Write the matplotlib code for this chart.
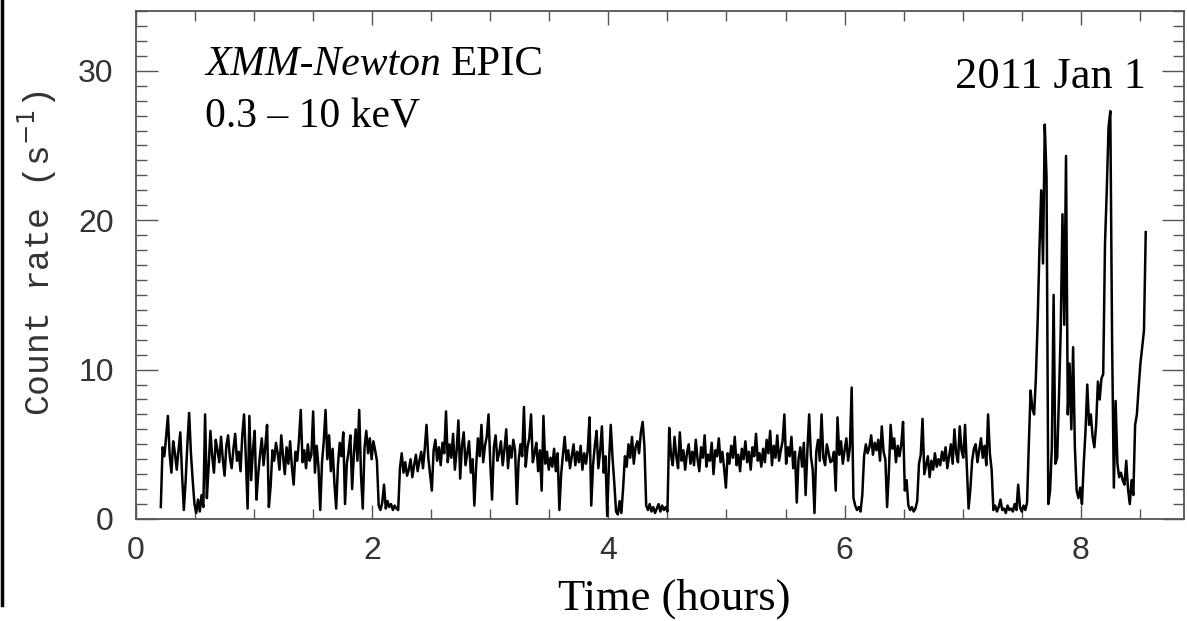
import numpy as np
import matplotlib
matplotlib.use("Agg")
import matplotlib.pyplot as plt
from matplotlib.ticker import MultipleLocator
from matplotlib.lines import Line2D

# light curve binning (hours)
T_START = 0.21
T_BIN = 0.015

# count rates (s^-1), one bin per value
rate_early = [  # 0.21 - 2.30 h
    0.8, 4.8, 4.2, 5.5, 6.9, 4.3, 3.1, 5.2, 4.4, 3.3, 4.6, 5.8, 3.0, 0.6, 2.5, 5.0, 7.1, 4.4, 2.6, 1.0,
    0.4, 1.3, 0.5, 1.6, 0.8, 7.0, 1.4, 3.5, 5.9, 4.2, 3.1, 5.3, 4.6, 3.8, 5.5, 4.0, 2.9, 4.9, 5.6, 4.1,
    3.4, 4.7, 5.7, 3.9, 4.5, 3.2, 5.6, 7.0, 4.1, 0.7, 6.9, 2.6, 4.6, 5.9, 1.3, 3.0, 4.3, 5.4, 3.6, 4.9,
    6.3, 0.8, 2.2, 4.6, 3.9, 5.1, 4.4, 3.3, 5.6, 4.2, 3.0, 4.8, 3.7, 5.2, 3.5, 2.3, 4.5, 3.9, 5.3, 7.3,
    3.8, 4.6, 3.4, 5.0, 3.9, 4.3, 7.2, 3.1, 4.9, 3.5, 0.6, 3.8, 5.2, 7.3, 4.0, 5.6, 3.2, 4.7, 2.4, 0.7,
    3.6, 5.1, 4.2, 5.8, 1.0, 3.7, 4.5, 5.6, 2.0, 4.4, 6.0, 3.9, 7.3, 3.0, 0.7, 4.8, 5.9, 4.4, 5.4, 4.0,
    5.2, 4.6, 3.9, 0.9, 0.6, 1.1, 2.3, 0.7, 1.2, 0.8, 1.0, 0.6, 0.9, 0.7, 0.6, 3.4, 4.4, 3.1, 3.8, 2.9,
]
rate_mid = [  # 2.31 - 4.40 h
    3.3, 4.0, 2.8, 3.6, 4.3, 3.2, 3.9, 4.5, 3.4, 4.7, 6.3, 4.1, 3.0, 1.9, 4.6, 5.3, 3.9, 4.8, 3.6, 5.1,
    4.4, 7.2, 3.8, 5.0, 4.1, 5.7, 3.3, 4.6, 6.6, 2.7, 4.9, 5.8, 3.6, 4.4, 5.2, 3.1, 4.0, 0.9, 3.5, 5.4,
    4.2, 6.3, 3.8, 4.9, 5.5, 7.0, 3.7, 1.3, 4.8, 5.6, 3.9, 4.4, 5.2, 3.6, 4.7, 6.0, 3.4, 4.9, 4.1, 5.3,
    4.6, 1.0, 3.9, 5.0, 4.2, 7.5, 3.5, 4.8, 5.4, 7.0, 3.8, 4.4, 5.1, 3.2, 4.6, 1.9, 6.9, 3.7, 4.5, 3.3,
    4.1, 3.5, 4.7, 3.2, 4.4, 0.6, 3.0, 4.3, 5.5, 3.9, 4.6, 3.4, 4.2, 5.0, 3.6, 4.5, 3.8, 4.9, 3.3, 4.4,
    3.7, 4.6, 6.8, 0.9, 3.6, 4.9, 5.9, 3.4, 4.5, 6.2, 3.1, 4.2, 0.2, 3.8, 6.3, 4.1, 2.4, 0.5, 0.3, 1.2,
    0.4, 2.1, 4.2, 3.5, 5.0, 4.1, 5.5, 3.7, 4.8, 5.2, 4.4, 5.8, 6.5, 4.9, 0.9, 0.6, 1.0, 0.5, 0.8, 0.4,
]
rate_late = [  # 4.41 - 7.40 h
    0.7, 1.0, 0.5, 0.9, 0.6, 0.8, 0.5, 6.1, 4.3, 3.6, 5.5, 4.2, 3.4, 5.8, 3.9, 4.6, 3.3, 4.4, 5.0, 3.7,
    4.5, 3.6, 5.3, 4.0, 3.2, 4.8, 4.1, 5.6, 3.5, 4.3, 3.9, 5.1, 3.0, 4.6, 4.2, 5.4, 3.8, 4.5, 3.4, 2.1,
    4.4, 3.7, 4.9, 4.1, 5.5, 3.6, 4.3, 3.2, 4.7, 4.0, 5.2, 3.8, 4.5, 3.3, 4.8, 4.2, 5.7, 3.9, 4.4, 3.5,
    4.7, 3.8, 5.3, 4.4, 5.9, 3.6, 4.9, 4.1, 5.6, 3.9, 4.6, 5.2, 7.0, 3.7, 4.8, 4.2, 5.5, 3.4, 4.5, 1.1,
    4.0, 4.8, 3.5, 5.1, 1.6, 4.6, 7.0, 4.2, 3.3, 0.4, 4.5, 5.3, 3.9, 7.0, 4.1, 3.6, 5.0, 4.4, 3.8, 3.9,
    4.5, 1.9, 6.8, 4.3, 5.2, 3.7, 4.6, 5.4, 3.9, 4.8, 8.8, 1.4, 0.9, 0.6, 0.8, 0.5, 1.6, 4.2, 5.0, 4.4,
    4.8, 5.6, 4.3, 5.1, 4.6, 5.3, 3.9, 6.2, 4.5, 4.0, 0.8, 3.2, 6.3, 4.7, 5.4, 3.8, 4.9, 4.2, 5.0, 6.5,
    1.9, 2.6, 0.9, 0.6, 0.8, 0.5, 0.7, 1.2, 3.7, 4.3, 6.7, 3.0, 3.6, 4.2, 2.8, 3.9, 3.3, 4.4, 3.5, 4.0,
    3.6, 4.5, 3.9, 4.8, 3.4, 4.2, 5.0, 3.7, 6.0, 4.4, 3.8, 6.2, 4.6, 4.1, 6.3, 3.5, 0.7, 2.0, 3.9, 4.7,
    5.0, 3.8, 4.6, 5.4, 4.1, 4.9, 3.6, 7.0, 4.4, 3.3, 0.6, 0.9, 0.5, 0.8, 1.3, 0.6, 0.7, 0.4, 0.9, 0.6,
]
rate_flare = [  # 7.41 - 8.55 h
    0.7, 0.5, 1.0, 0.6, 2.3, 0.8, 0.5, 0.9, 0.6, 1.1, 5.0, 8.6, 7.4, 7.0, 9.5, 13.3, 18.1, 22.0, 17.1, 26.4,
    22.9, 1.0, 1.9, 4.8, 15.0, 3.7, 4.1, 8.1, 12.6, 20.4, 13.0, 24.3, 7.0, 10.4, 6.0, 11.5, 4.8, 1.9, 1.4, 2.1,
    1.0, 3.7, 5.9, 9.0, 6.3, 7.0, 5.5, 4.8, 6.3, 9.2, 8.0, 9.4, 9.7, 18.4, 22.0, 26.2, 27.3, 12.0, 2.1, 7.9,
    3.7, 2.8, 3.1, 2.6, 2.3, 3.9, 2.0, 1.0, 2.6, 1.6, 6.3, 7.0, 8.8, 10.4, 11.5, 12.6, 19.2,
]

rate = np.array(rate_early + rate_mid + rate_late + rate_flare)
hours = T_START + T_BIN * np.arange(len(rate))

W, H = 1187, 621
fig = plt.figure(figsize=(W / 100, H / 100), dpi=100)
ax = fig.add_axes([136 / W, 1 - 519 / H, (1184 - 136) / W, (519 - 11) / H])

ax.plot(hours, rate, color='black', lw=1.8)

ax.set_xlim(0, 8.874)
ax.set_ylim(0, 34)
ax.xaxis.set_major_locator(MultipleLocator(2))
ax.xaxis.set_minor_locator(MultipleLocator(0.5))
ax.yaxis.set_major_locator(MultipleLocator(10))
ax.yaxis.set_minor_locator(MultipleLocator(1))

ax.tick_params(which='both', direction='in', top=True, right=True,
               color='#555555', width=1.0, labelcolor='#333333',
               labelsize=23)
ax.tick_params(axis='y', which='major', length=16, pad=16)
ax.tick_params(axis='y', which='minor', length=8)
ax.tick_params(axis='x', which='major', length=10, pad=12)
ax.tick_params(axis='x', which='minor', length=7)
for lab in ax.get_xticklabels() + ax.get_yticklabels():
    lab.set_family('Liberation Sans')
for s in ax.spines.values():
    s.set_color('#555555')
    s.set_linewidth(1.3)

fig.text(37 / W, 1 - 253 / H, 'Count rate (s$^{-1}$)', rotation=90,
         ha='center', va='center', family='Liberation Mono', fontsize=25,
         color='#333333')
fig.text(558 / W, 1 - 610 / H, 'Time (hours)', ha='left', va='baseline',
         family='Liberation Serif', fontsize=32)

# annotations
t1 = fig.text(205 / W, 1 - 75 / H, 'XMM-Newton', style='italic',
              family='Liberation Serif', fontsize=30, va='baseline')
fig.canvas.draw()
bb = t1.get_window_extent()
fig.text((bb.x1 + 10) / W, 1 - 75 / H, 'EPIC', family='Liberation Serif',
         fontsize=31, va='baseline')
fig.text(205 / W, 1 - 127 / H, '0.3 \u2013 10 keV', family='Liberation Serif',
         fontsize=30, va='baseline')
fig.text(955 / W, 1 - 88 / H, '2011 Jan 1', family='Liberation Serif',
         fontsize=32, va='baseline')

# black bar at the left edge of the original figure
fig.add_artist(Line2D([1.5 / W, 1.5 / W], [1 - 605 / H, 1], color='black',
                      lw=2.5, transform=fig.transFigure))

fig.savefig('out.png', dpi=100)
